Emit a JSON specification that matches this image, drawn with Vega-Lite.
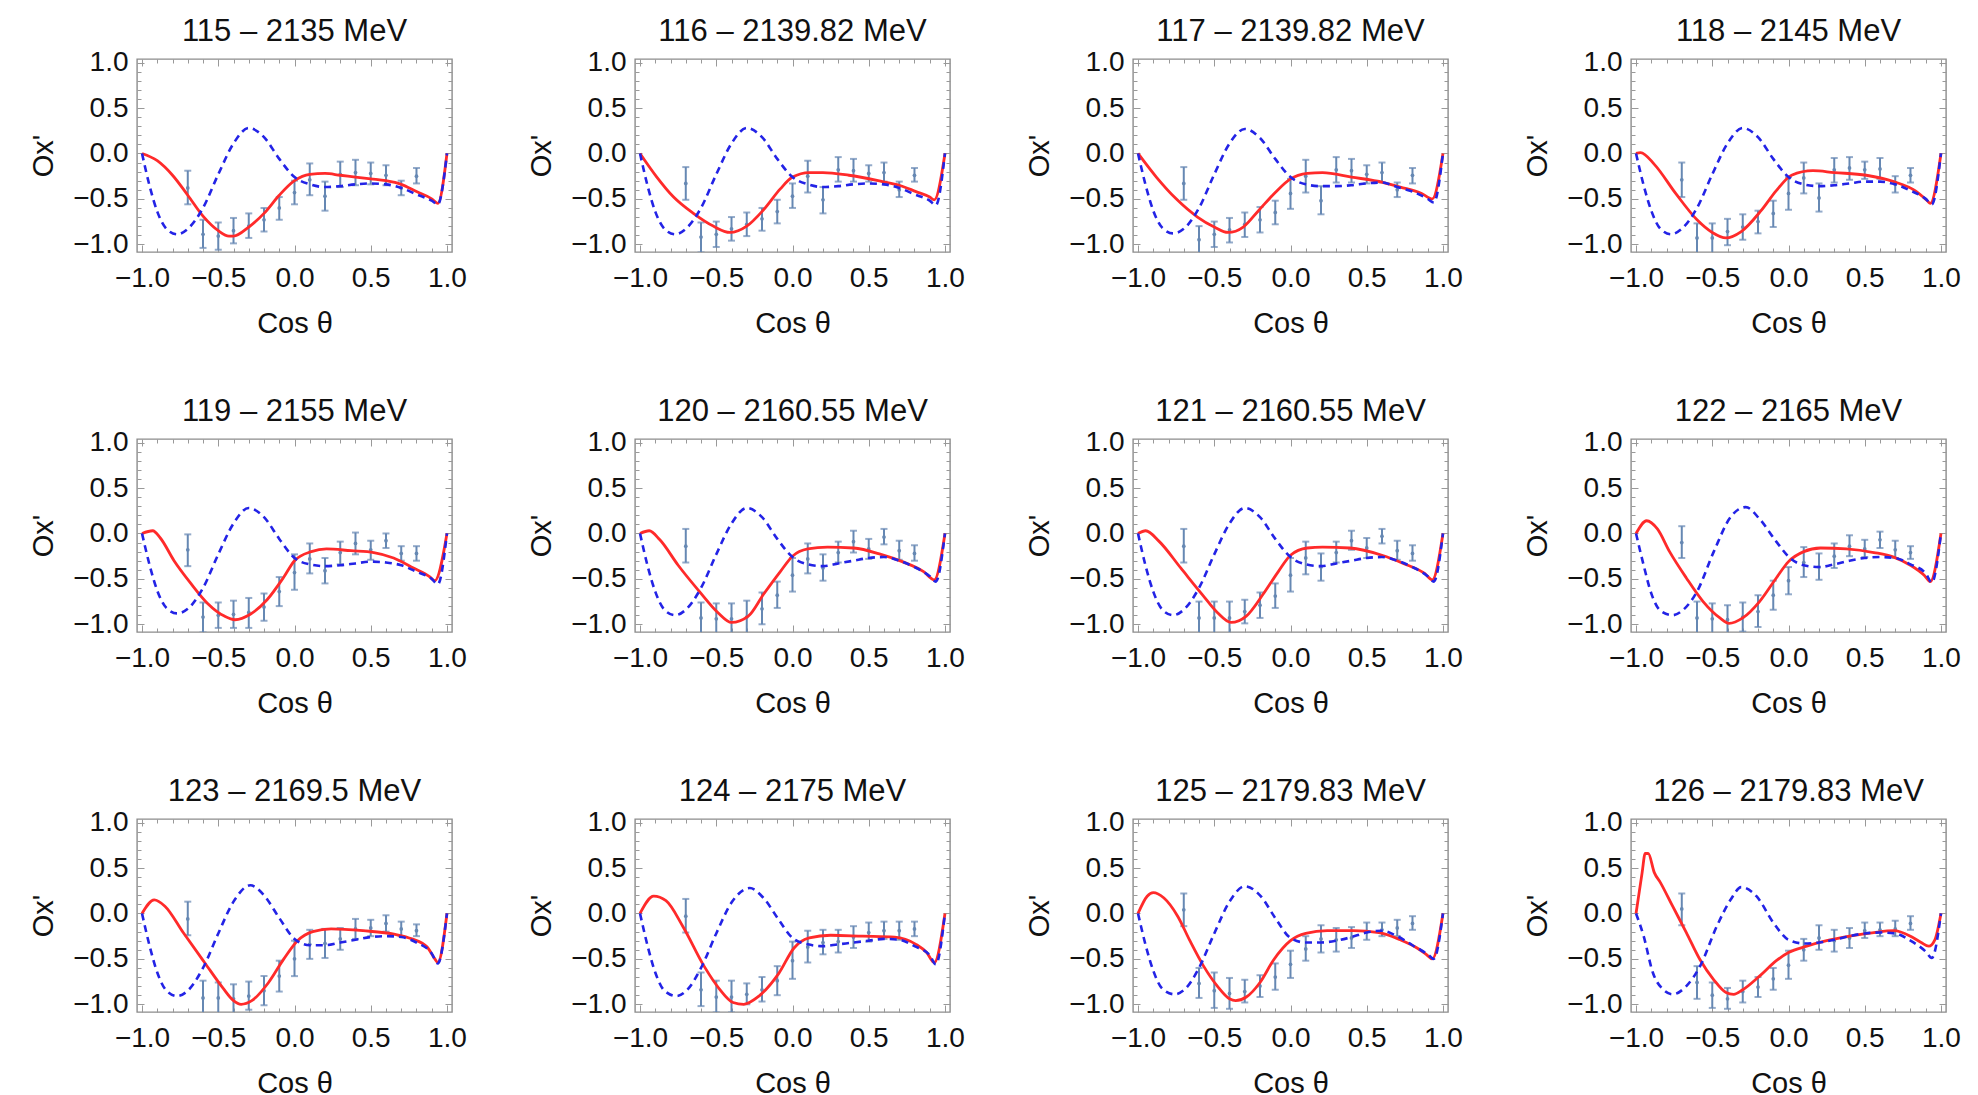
{
"$schema": "https://vega.github.io/schema/vega-lite/v6.json",
"background": "white",
"padding": {"left": 29, "top": 14, "right": 5, "bottom": 0},
"data": {"values": [
{"p":"115 – 2135 MeV","s":"d","x":-0.7,"lo":-0.56,"hi":-0.19,"y":-0.38},
{"p":"115 – 2135 MeV","s":"d","x":-0.6,"lo":-1.04,"hi":-0.73,"y":-0.89},
{"p":"115 – 2135 MeV","s":"d","x":-0.5,"lo":-1.06,"hi":-0.76,"y":-0.91},
{"p":"115 – 2135 MeV","s":"d","x":-0.4,"lo":-0.99,"hi":-0.71,"y":-0.85},
{"p":"115 – 2135 MeV","s":"d","x":-0.3,"lo":-0.93,"hi":-0.66,"y":-0.8},
{"p":"115 – 2135 MeV","s":"d","x":-0.2,"lo":-0.86,"hi":-0.6,"y":-0.73},
{"p":"115 – 2135 MeV","s":"d","x":-0.1,"lo":-0.73,"hi":-0.48,"y":-0.6},
{"p":"115 – 2135 MeV","s":"d","x":0,"lo":-0.56,"hi":-0.3,"y":-0.43},
{"p":"115 – 2135 MeV","s":"d","x":0.1,"lo":-0.46,"hi":-0.11,"y":-0.29},
{"p":"115 – 2135 MeV","s":"d","x":0.2,"lo":-0.63,"hi":-0.31,"y":-0.47},
{"p":"115 – 2135 MeV","s":"d","x":0.3,"lo":-0.37,"hi":-0.09,"y":-0.23},
{"p":"115 – 2135 MeV","s":"d","x":0.4,"lo":-0.35,"hi":-0.07,"y":-0.21},
{"p":"115 – 2135 MeV","s":"d","x":0.5,"lo":-0.34,"hi":-0.1,"y":-0.22},
{"p":"115 – 2135 MeV","s":"d","x":0.6,"lo":-0.35,"hi":-0.13,"y":-0.24},
{"p":"115 – 2135 MeV","s":"d","x":0.7,"lo":-0.46,"hi":-0.3,"y":-0.38},
{"p":"115 – 2135 MeV","s":"d","x":0.8,"lo":-0.33,"hi":-0.16,"y":-0.25},
{"p":"116 – 2139.82 MeV","s":"d","x":-0.7,"lo":-0.51,"hi":-0.15,"y":-0.33},
{"p":"116 – 2139.82 MeV","s":"d","x":-0.6,"lo":-1.09,"hi":-0.76,"y":-0.92},
{"p":"116 – 2139.82 MeV","s":"d","x":-0.5,"lo":-1.03,"hi":-0.75,"y":-0.89},
{"p":"116 – 2139.82 MeV","s":"d","x":-0.4,"lo":-0.96,"hi":-0.7,"y":-0.83},
{"p":"116 – 2139.82 MeV","s":"d","x":-0.3,"lo":-0.91,"hi":-0.65,"y":-0.78},
{"p":"116 – 2139.82 MeV","s":"d","x":-0.2,"lo":-0.85,"hi":-0.6,"y":-0.72},
{"p":"116 – 2139.82 MeV","s":"d","x":-0.1,"lo":-0.77,"hi":-0.51,"y":-0.64},
{"p":"116 – 2139.82 MeV","s":"d","x":0,"lo":-0.6,"hi":-0.33,"y":-0.47},
{"p":"116 – 2139.82 MeV","s":"d","x":0.1,"lo":-0.43,"hi":-0.08,"y":-0.25},
{"p":"116 – 2139.82 MeV","s":"d","x":0.2,"lo":-0.66,"hi":-0.37,"y":-0.51},
{"p":"116 – 2139.82 MeV","s":"d","x":0.3,"lo":-0.31,"hi":-0.04,"y":-0.18},
{"p":"116 – 2139.82 MeV","s":"d","x":0.4,"lo":-0.31,"hi":-0.06,"y":-0.19},
{"p":"116 – 2139.82 MeV","s":"d","x":0.5,"lo":-0.31,"hi":-0.13,"y":-0.22},
{"p":"116 – 2139.82 MeV","s":"d","x":0.6,"lo":-0.31,"hi":-0.1,"y":-0.21},
{"p":"116 – 2139.82 MeV","s":"d","x":0.7,"lo":-0.48,"hi":-0.31,"y":-0.4},
{"p":"116 – 2139.82 MeV","s":"d","x":0.8,"lo":-0.31,"hi":-0.16,"y":-0.24},
{"p":"117 – 2139.82 MeV","s":"d","x":-0.7,"lo":-0.51,"hi":-0.15,"y":-0.33},
{"p":"117 – 2139.82 MeV","s":"d","x":-0.6,"lo":-1.1,"hi":-0.8,"y":-0.95},
{"p":"117 – 2139.82 MeV","s":"d","x":-0.5,"lo":-1.03,"hi":-0.75,"y":-0.89},
{"p":"117 – 2139.82 MeV","s":"d","x":-0.4,"lo":-0.98,"hi":-0.71,"y":-0.84},
{"p":"117 – 2139.82 MeV","s":"d","x":-0.3,"lo":-0.92,"hi":-0.65,"y":-0.78},
{"p":"117 – 2139.82 MeV","s":"d","x":-0.2,"lo":-0.87,"hi":-0.59,"y":-0.73},
{"p":"117 – 2139.82 MeV","s":"d","x":-0.1,"lo":-0.78,"hi":-0.52,"y":-0.65},
{"p":"117 – 2139.82 MeV","s":"d","x":0,"lo":-0.61,"hi":-0.28,"y":-0.44},
{"p":"117 – 2139.82 MeV","s":"d","x":0.1,"lo":-0.43,"hi":-0.07,"y":-0.25},
{"p":"117 – 2139.82 MeV","s":"d","x":0.2,"lo":-0.67,"hi":-0.36,"y":-0.52},
{"p":"117 – 2139.82 MeV","s":"d","x":0.3,"lo":-0.32,"hi":-0.04,"y":-0.18},
{"p":"117 – 2139.82 MeV","s":"d","x":0.4,"lo":-0.32,"hi":-0.06,"y":-0.19},
{"p":"117 – 2139.82 MeV","s":"d","x":0.5,"lo":-0.33,"hi":-0.13,"y":-0.23},
{"p":"117 – 2139.82 MeV","s":"d","x":0.6,"lo":-0.32,"hi":-0.1,"y":-0.21},
{"p":"117 – 2139.82 MeV","s":"d","x":0.7,"lo":-0.48,"hi":-0.32,"y":-0.4},
{"p":"117 – 2139.82 MeV","s":"d","x":0.8,"lo":-0.33,"hi":-0.16,"y":-0.24},
{"p":"118 – 2145 MeV","s":"d","x":-0.7,"lo":-0.48,"hi":-0.1,"y":-0.29},
{"p":"118 – 2145 MeV","s":"d","x":-0.6,"lo":-1.1,"hi":-0.77,"y":-0.93},
{"p":"118 – 2145 MeV","s":"d","x":-0.5,"lo":-1.1,"hi":-0.77,"y":-0.93},
{"p":"118 – 2145 MeV","s":"d","x":-0.4,"lo":-1.01,"hi":-0.72,"y":-0.86},
{"p":"118 – 2145 MeV","s":"d","x":-0.3,"lo":-0.95,"hi":-0.67,"y":-0.81},
{"p":"118 – 2145 MeV","s":"d","x":-0.2,"lo":-0.88,"hi":-0.63,"y":-0.75},
{"p":"118 – 2145 MeV","s":"d","x":-0.1,"lo":-0.81,"hi":-0.52,"y":-0.66},
{"p":"118 – 2145 MeV","s":"d","x":0,"lo":-0.62,"hi":-0.26,"y":-0.44},
{"p":"118 – 2145 MeV","s":"d","x":0.1,"lo":-0.44,"hi":-0.1,"y":-0.27},
{"p":"118 – 2145 MeV","s":"d","x":0.2,"lo":-0.64,"hi":-0.33,"y":-0.49},
{"p":"118 – 2145 MeV","s":"d","x":0.3,"lo":-0.32,"hi":-0.05,"y":-0.18},
{"p":"118 – 2145 MeV","s":"d","x":0.4,"lo":-0.29,"hi":-0.04,"y":-0.16},
{"p":"118 – 2145 MeV","s":"d","x":0.5,"lo":-0.28,"hi":-0.09,"y":-0.18},
{"p":"118 – 2145 MeV","s":"d","x":0.6,"lo":-0.28,"hi":-0.05,"y":-0.17},
{"p":"118 – 2145 MeV","s":"d","x":0.7,"lo":-0.43,"hi":-0.25,"y":-0.34},
{"p":"118 – 2145 MeV","s":"d","x":0.8,"lo":-0.32,"hi":-0.16,"y":-0.24},
{"p":"119 – 2155 MeV","s":"d","x":-0.7,"lo":-0.36,"hi":-0.01,"y":-0.18},
{"p":"119 – 2155 MeV","s":"d","x":-0.6,"lo":-1.09,"hi":-0.76,"y":-0.92},
{"p":"119 – 2155 MeV","s":"d","x":-0.5,"lo":-1.04,"hi":-0.76,"y":-0.9},
{"p":"119 – 2155 MeV","s":"d","x":-0.4,"lo":-1.04,"hi":-0.74,"y":-0.89},
{"p":"119 – 2155 MeV","s":"d","x":-0.3,"lo":-1.04,"hi":-0.71,"y":-0.87},
{"p":"119 – 2155 MeV","s":"d","x":-0.2,"lo":-0.96,"hi":-0.66,"y":-0.81},
{"p":"119 – 2155 MeV","s":"d","x":-0.1,"lo":-0.8,"hi":-0.48,"y":-0.64},
{"p":"119 – 2155 MeV","s":"d","x":0,"lo":-0.62,"hi":-0.23,"y":-0.43},
{"p":"119 – 2155 MeV","s":"d","x":0.1,"lo":-0.44,"hi":-0.11,"y":-0.28},
{"p":"119 – 2155 MeV","s":"d","x":0.2,"lo":-0.55,"hi":-0.27,"y":-0.41},
{"p":"119 – 2155 MeV","s":"d","x":0.3,"lo":-0.34,"hi":-0.09,"y":-0.21},
{"p":"119 – 2155 MeV","s":"d","x":0.4,"lo":-0.23,"hi":0.01,"y":-0.11},
{"p":"119 – 2155 MeV","s":"d","x":0.5,"lo":-0.29,"hi":-0.08,"y":-0.18},
{"p":"119 – 2155 MeV","s":"d","x":0.6,"lo":-0.16,"hi":0,"y":-0.08},
{"p":"119 – 2155 MeV","s":"d","x":0.7,"lo":-0.3,"hi":-0.14,"y":-0.22},
{"p":"119 – 2155 MeV","s":"d","x":0.8,"lo":-0.3,"hi":-0.14,"y":-0.22},
{"p":"120 – 2160.55 MeV","s":"d","x":-0.7,"lo":-0.32,"hi":0.05,"y":-0.14},
{"p":"120 – 2160.55 MeV","s":"d","x":-0.6,"lo":-1.11,"hi":-0.76,"y":-0.93},
{"p":"120 – 2160.55 MeV","s":"d","x":-0.5,"lo":-1.11,"hi":-0.77,"y":-0.94},
{"p":"120 – 2160.55 MeV","s":"d","x":-0.4,"lo":-1.11,"hi":-0.77,"y":-0.94},
{"p":"120 – 2160.55 MeV","s":"d","x":-0.3,"lo":-1.1,"hi":-0.74,"y":-0.92},
{"p":"120 – 2160.55 MeV","s":"d","x":-0.2,"lo":-1,"hi":-0.65,"y":-0.83},
{"p":"120 – 2160.55 MeV","s":"d","x":-0.1,"lo":-0.82,"hi":-0.53,"y":-0.68},
{"p":"120 – 2160.55 MeV","s":"d","x":0,"lo":-0.64,"hi":-0.27,"y":-0.46},
{"p":"120 – 2160.55 MeV","s":"d","x":0.1,"lo":-0.44,"hi":-0.11,"y":-0.28},
{"p":"120 – 2160.55 MeV","s":"d","x":0.2,"lo":-0.52,"hi":-0.23,"y":-0.38},
{"p":"120 – 2160.55 MeV","s":"d","x":0.3,"lo":-0.32,"hi":-0.09,"y":-0.21},
{"p":"120 – 2160.55 MeV","s":"d","x":0.4,"lo":-0.21,"hi":0.03,"y":-0.09},
{"p":"120 – 2160.55 MeV","s":"d","x":0.5,"lo":-0.28,"hi":-0.06,"y":-0.17},
{"p":"120 – 2160.55 MeV","s":"d","x":0.6,"lo":-0.12,"hi":0.05,"y":-0.04},
{"p":"120 – 2160.55 MeV","s":"d","x":0.7,"lo":-0.29,"hi":-0.08,"y":-0.19},
{"p":"120 – 2160.55 MeV","s":"d","x":0.8,"lo":-0.3,"hi":-0.13,"y":-0.22},
{"p":"121 – 2160.55 MeV","s":"d","x":-0.7,"lo":-0.32,"hi":0.05,"y":-0.14},
{"p":"121 – 2160.55 MeV","s":"d","x":-0.6,"lo":-1.11,"hi":-0.75,"y":-0.93},
{"p":"121 – 2160.55 MeV","s":"d","x":-0.5,"lo":-1.11,"hi":-0.75,"y":-0.93},
{"p":"121 – 2160.55 MeV","s":"d","x":-0.4,"lo":-1.11,"hi":-0.75,"y":-0.93},
{"p":"121 – 2160.55 MeV","s":"d","x":-0.3,"lo":-0.99,"hi":-0.73,"y":-0.86},
{"p":"121 – 2160.55 MeV","s":"d","x":-0.2,"lo":-0.93,"hi":-0.65,"y":-0.79},
{"p":"121 – 2160.55 MeV","s":"d","x":-0.1,"lo":-0.82,"hi":-0.55,"y":-0.69},
{"p":"121 – 2160.55 MeV","s":"d","x":0,"lo":-0.64,"hi":-0.27,"y":-0.46},
{"p":"121 – 2160.55 MeV","s":"d","x":0.1,"lo":-0.45,"hi":-0.09,"y":-0.27},
{"p":"121 – 2160.55 MeV","s":"d","x":0.2,"lo":-0.52,"hi":-0.22,"y":-0.37},
{"p":"121 – 2160.55 MeV","s":"d","x":0.3,"lo":-0.32,"hi":-0.09,"y":-0.21},
{"p":"121 – 2160.55 MeV","s":"d","x":0.4,"lo":-0.18,"hi":0.03,"y":-0.08},
{"p":"121 – 2160.55 MeV","s":"d","x":0.5,"lo":-0.27,"hi":-0.05,"y":-0.16},
{"p":"121 – 2160.55 MeV","s":"d","x":0.6,"lo":-0.11,"hi":0.05,"y":-0.03},
{"p":"121 – 2160.55 MeV","s":"d","x":0.7,"lo":-0.29,"hi":-0.08,"y":-0.19},
{"p":"121 – 2160.55 MeV","s":"d","x":0.8,"lo":-0.3,"hi":-0.13,"y":-0.22},
{"p":"122 – 2165 MeV","s":"d","x":-0.7,"lo":-0.27,"hi":0.08,"y":-0.1},
{"p":"122 – 2165 MeV","s":"d","x":-0.6,"lo":-1.1,"hi":-0.75,"y":-0.93},
{"p":"122 – 2165 MeV","s":"d","x":-0.5,"lo":-1.1,"hi":-0.77,"y":-0.94},
{"p":"122 – 2165 MeV","s":"d","x":-0.4,"lo":-1.1,"hi":-0.79,"y":-0.95},
{"p":"122 – 2165 MeV","s":"d","x":-0.3,"lo":-1.08,"hi":-0.76,"y":-0.92},
{"p":"122 – 2165 MeV","s":"d","x":-0.2,"lo":-1.03,"hi":-0.68,"y":-0.86},
{"p":"122 – 2165 MeV","s":"d","x":-0.1,"lo":-0.84,"hi":-0.52,"y":-0.68},
{"p":"122 – 2165 MeV","s":"d","x":0,"lo":-0.67,"hi":-0.37,"y":-0.52},
{"p":"122 – 2165 MeV","s":"d","x":0.1,"lo":-0.48,"hi":-0.15,"y":-0.32},
{"p":"122 – 2165 MeV","s":"d","x":0.2,"lo":-0.51,"hi":-0.22,"y":-0.37},
{"p":"122 – 2165 MeV","s":"d","x":0.3,"lo":-0.38,"hi":-0.11,"y":-0.25},
{"p":"122 – 2165 MeV","s":"d","x":0.4,"lo":-0.25,"hi":-0.02,"y":-0.14},
{"p":"122 – 2165 MeV","s":"d","x":0.5,"lo":-0.26,"hi":-0.07,"y":-0.17},
{"p":"122 – 2165 MeV","s":"d","x":0.6,"lo":-0.16,"hi":0.02,"y":-0.07},
{"p":"122 – 2165 MeV","s":"d","x":0.7,"lo":-0.27,"hi":-0.08,"y":-0.18},
{"p":"122 – 2165 MeV","s":"d","x":0.8,"lo":-0.28,"hi":-0.14,"y":-0.21},
{"p":"123 – 2169.5 MeV","s":"d","x":-0.7,"lo":-0.24,"hi":0.13,"y":-0.06},
{"p":"123 – 2169.5 MeV","s":"d","x":-0.6,"lo":-1.11,"hi":-0.74,"y":-0.93},
{"p":"123 – 2169.5 MeV","s":"d","x":-0.5,"lo":-1.1,"hi":-0.76,"y":-0.93},
{"p":"123 – 2169.5 MeV","s":"d","x":-0.4,"lo":-1.1,"hi":-0.78,"y":-0.94},
{"p":"123 – 2169.5 MeV","s":"d","x":-0.3,"lo":-1.06,"hi":-0.75,"y":-0.91},
{"p":"123 – 2169.5 MeV","s":"d","x":-0.2,"lo":-1.01,"hi":-0.69,"y":-0.85},
{"p":"123 – 2169.5 MeV","s":"d","x":-0.1,"lo":-0.86,"hi":-0.52,"y":-0.69},
{"p":"123 – 2169.5 MeV","s":"d","x":0,"lo":-0.69,"hi":-0.3,"y":-0.5},
{"p":"123 – 2169.5 MeV","s":"d","x":0.1,"lo":-0.5,"hi":-0.18,"y":-0.34},
{"p":"123 – 2169.5 MeV","s":"d","x":0.2,"lo":-0.49,"hi":-0.17,"y":-0.33},
{"p":"123 – 2169.5 MeV","s":"d","x":0.3,"lo":-0.4,"hi":-0.16,"y":-0.28},
{"p":"123 – 2169.5 MeV","s":"d","x":0.4,"lo":-0.28,"hi":-0.06,"y":-0.17},
{"p":"123 – 2169.5 MeV","s":"d","x":0.5,"lo":-0.25,"hi":-0.07,"y":-0.16},
{"p":"123 – 2169.5 MeV","s":"d","x":0.6,"lo":-0.2,"hi":-0.02,"y":-0.11},
{"p":"123 – 2169.5 MeV","s":"d","x":0.7,"lo":-0.25,"hi":-0.09,"y":-0.17},
{"p":"123 – 2169.5 MeV","s":"d","x":0.8,"lo":-0.25,"hi":-0.12,"y":-0.19},
{"p":"124 – 2175 MeV","s":"d","x":-0.7,"lo":-0.21,"hi":0.16,"y":-0.03},
{"p":"124 – 2175 MeV","s":"d","x":-0.6,"lo":-1.02,"hi":-0.65,"y":-0.84},
{"p":"124 – 2175 MeV","s":"d","x":-0.5,"lo":-1.09,"hi":-0.74,"y":-0.92},
{"p":"124 – 2175 MeV","s":"d","x":-0.4,"lo":-1.09,"hi":-0.74,"y":-0.92},
{"p":"124 – 2175 MeV","s":"d","x":-0.3,"lo":-1,"hi":-0.77,"y":-0.89},
{"p":"124 – 2175 MeV","s":"d","x":-0.2,"lo":-0.97,"hi":-0.7,"y":-0.84},
{"p":"124 – 2175 MeV","s":"d","x":-0.1,"lo":-0.9,"hi":-0.58,"y":-0.74},
{"p":"124 – 2175 MeV","s":"d","x":0,"lo":-0.72,"hi":-0.31,"y":-0.52},
{"p":"124 – 2175 MeV","s":"d","x":0.1,"lo":-0.54,"hi":-0.19,"y":-0.37},
{"p":"124 – 2175 MeV","s":"d","x":0.2,"lo":-0.45,"hi":-0.18,"y":-0.32},
{"p":"124 – 2175 MeV","s":"d","x":0.3,"lo":-0.43,"hi":-0.18,"y":-0.31},
{"p":"124 – 2175 MeV","s":"d","x":0.4,"lo":-0.38,"hi":-0.14,"y":-0.26},
{"p":"124 – 2175 MeV","s":"d","x":0.5,"lo":-0.31,"hi":-0.1,"y":-0.21},
{"p":"124 – 2175 MeV","s":"d","x":0.6,"lo":-0.28,"hi":-0.09,"y":-0.19},
{"p":"124 – 2175 MeV","s":"d","x":0.7,"lo":-0.29,"hi":-0.09,"y":-0.19},
{"p":"124 – 2175 MeV","s":"d","x":0.8,"lo":-0.25,"hi":-0.09,"y":-0.17},
{"p":"125 – 2179.83 MeV","s":"d","x":-0.7,"lo":-0.14,"hi":0.22,"y":0.04},
{"p":"125 – 2179.83 MeV","s":"d","x":-0.6,"lo":-0.93,"hi":-0.6,"y":-0.77},
{"p":"125 – 2179.83 MeV","s":"d","x":-0.5,"lo":-1.04,"hi":-0.65,"y":-0.85},
{"p":"125 – 2179.83 MeV","s":"d","x":-0.4,"lo":-1.05,"hi":-0.71,"y":-0.88},
{"p":"125 – 2179.83 MeV","s":"d","x":-0.3,"lo":-0.98,"hi":-0.73,"y":-0.86},
{"p":"125 – 2179.83 MeV","s":"d","x":-0.2,"lo":-0.92,"hi":-0.68,"y":-0.8},
{"p":"125 – 2179.83 MeV","s":"d","x":-0.1,"lo":-0.84,"hi":-0.55,"y":-0.7},
{"p":"125 – 2179.83 MeV","s":"d","x":0,"lo":-0.71,"hi":-0.41,"y":-0.56},
{"p":"125 – 2179.83 MeV","s":"d","x":0.1,"lo":-0.52,"hi":-0.25,"y":-0.39},
{"p":"125 – 2179.83 MeV","s":"d","x":0.2,"lo":-0.43,"hi":-0.13,"y":-0.28},
{"p":"125 – 2179.83 MeV","s":"d","x":0.3,"lo":-0.42,"hi":-0.16,"y":-0.29},
{"p":"125 – 2179.83 MeV","s":"d","x":0.4,"lo":-0.38,"hi":-0.15,"y":-0.27},
{"p":"125 – 2179.83 MeV","s":"d","x":0.5,"lo":-0.29,"hi":-0.1,"y":-0.2},
{"p":"125 – 2179.83 MeV","s":"d","x":0.6,"lo":-0.25,"hi":-0.1,"y":-0.18},
{"p":"125 – 2179.83 MeV","s":"d","x":0.7,"lo":-0.25,"hi":-0.07,"y":-0.16},
{"p":"125 – 2179.83 MeV","s":"d","x":0.8,"lo":-0.18,"hi":-0.03,"y":-0.11},
{"p":"126 – 2179.83 MeV","s":"d","x":-0.7,"lo":-0.13,"hi":0.22,"y":0.05},
{"p":"126 – 2179.83 MeV","s":"d","x":-0.6,"lo":-0.94,"hi":-0.58,"y":-0.76},
{"p":"126 – 2179.83 MeV","s":"d","x":-0.5,"lo":-1.04,"hi":-0.76,"y":-0.9},
{"p":"126 – 2179.83 MeV","s":"d","x":-0.4,"lo":-1.05,"hi":-0.82,"y":-0.94},
{"p":"126 – 2179.83 MeV","s":"d","x":-0.3,"lo":-0.98,"hi":-0.74,"y":-0.86},
{"p":"126 – 2179.83 MeV","s":"d","x":-0.2,"lo":-0.92,"hi":-0.7,"y":-0.81},
{"p":"126 – 2179.83 MeV","s":"d","x":-0.1,"lo":-0.84,"hi":-0.6,"y":-0.72},
{"p":"126 – 2179.83 MeV","s":"d","x":0,"lo":-0.72,"hi":-0.41,"y":-0.57},
{"p":"126 – 2179.83 MeV","s":"d","x":0.1,"lo":-0.52,"hi":-0.28,"y":-0.4},
{"p":"126 – 2179.83 MeV","s":"d","x":0.2,"lo":-0.4,"hi":-0.13,"y":-0.27},
{"p":"126 – 2179.83 MeV","s":"d","x":0.3,"lo":-0.42,"hi":-0.18,"y":-0.3},
{"p":"126 – 2179.83 MeV","s":"d","x":0.4,"lo":-0.38,"hi":-0.16,"y":-0.27},
{"p":"126 – 2179.83 MeV","s":"d","x":0.5,"lo":-0.27,"hi":-0.1,"y":-0.19},
{"p":"126 – 2179.83 MeV","s":"d","x":0.6,"lo":-0.25,"hi":-0.1,"y":-0.18},
{"p":"126 – 2179.83 MeV","s":"d","x":0.7,"lo":-0.25,"hi":-0.08,"y":-0.17},
{"p":"126 – 2179.83 MeV","s":"d","x":0.8,"lo":-0.18,"hi":-0.03,"y":-0.11},

{"p":"115 – 2135 MeV","s":"f","x":-1,"y":0},{"p":"115 – 2135 MeV","s":"f","x":-0.9,"y":-0.08},{"p":"115 – 2135 MeV","s":"f","x":-0.8,"y":-0.24},{"p":"115 – 2135 MeV","s":"f","x":-0.7,"y":-0.46},{"p":"115 – 2135 MeV","s":"f","x":-0.6,"y":-0.69},{"p":"115 – 2135 MeV","s":"f","x":-0.5,"y":-0.85},{"p":"115 – 2135 MeV","s":"f","x":-0.43,"y":-0.91},{"p":"115 – 2135 MeV","s":"f","x":-0.4,"y":-0.91},{"p":"115 – 2135 MeV","s":"f","x":-0.3,"y":-0.81},{"p":"115 – 2135 MeV","s":"f","x":-0.2,"y":-0.66},{"p":"115 – 2135 MeV","s":"f","x":-0.1,"y":-0.46},{"p":"115 – 2135 MeV","s":"f","x":0,"y":-0.3},{"p":"115 – 2135 MeV","s":"f","x":0.1,"y":-0.23},{"p":"115 – 2135 MeV","s":"f","x":0.2,"y":-0.22},{"p":"115 – 2135 MeV","s":"f","x":0.3,"y":-0.24},{"p":"115 – 2135 MeV","s":"f","x":0.4,"y":-0.26},{"p":"115 – 2135 MeV","s":"f","x":0.5,"y":-0.28},{"p":"115 – 2135 MeV","s":"f","x":0.6,"y":-0.3},{"p":"115 – 2135 MeV","s":"f","x":0.7,"y":-0.34},{"p":"115 – 2135 MeV","s":"f","x":0.8,"y":-0.42},{"p":"115 – 2135 MeV","s":"f","x":0.9,"y":-0.5},{"p":"115 – 2135 MeV","s":"f","x":0.94,"y":-0.55},{"p":"115 – 2135 MeV","s":"f","x":1,"y":0},
{"p":"116 – 2139.82 MeV","s":"f","x":-1,"y":0},{"p":"116 – 2139.82 MeV","s":"f","x":-0.89,"y":-0.26},{"p":"116 – 2139.82 MeV","s":"f","x":-0.78,"y":-0.48},{"p":"116 – 2139.82 MeV","s":"f","x":-0.65,"y":-0.66},{"p":"116 – 2139.82 MeV","s":"f","x":-0.52,"y":-0.8},{"p":"116 – 2139.82 MeV","s":"f","x":-0.41,"y":-0.87},{"p":"116 – 2139.82 MeV","s":"f","x":-0.3,"y":-0.8},{"p":"116 – 2139.82 MeV","s":"f","x":-0.19,"y":-0.62},{"p":"116 – 2139.82 MeV","s":"f","x":-0.08,"y":-0.39},{"p":"116 – 2139.82 MeV","s":"f","x":0,"y":-0.26},{"p":"116 – 2139.82 MeV","s":"f","x":0.11,"y":-0.21},{"p":"116 – 2139.82 MeV","s":"f","x":0.2,"y":-0.21},{"p":"116 – 2139.82 MeV","s":"f","x":0.37,"y":-0.24},{"p":"116 – 2139.82 MeV","s":"f","x":0.59,"y":-0.31},{"p":"116 – 2139.82 MeV","s":"f","x":0.7,"y":-0.35},{"p":"116 – 2139.82 MeV","s":"f","x":0.81,"y":-0.42},{"p":"116 – 2139.82 MeV","s":"f","x":0.9,"y":-0.48},{"p":"116 – 2139.82 MeV","s":"f","x":0.93,"y":-0.51},{"p":"116 – 2139.82 MeV","s":"f","x":1,"y":0},
{"p":"117 – 2139.82 MeV","s":"f","x":-1,"y":0},{"p":"117 – 2139.82 MeV","s":"f","x":-0.88,"y":-0.26},{"p":"117 – 2139.82 MeV","s":"f","x":-0.75,"y":-0.5},{"p":"117 – 2139.82 MeV","s":"f","x":-0.61,"y":-0.7},{"p":"117 – 2139.82 MeV","s":"f","x":-0.5,"y":-0.81},{"p":"117 – 2139.82 MeV","s":"f","x":-0.41,"y":-0.87},{"p":"117 – 2139.82 MeV","s":"f","x":-0.31,"y":-0.81},{"p":"117 – 2139.82 MeV","s":"f","x":-0.21,"y":-0.63},{"p":"117 – 2139.82 MeV","s":"f","x":-0.1,"y":-0.43},{"p":"117 – 2139.82 MeV","s":"f","x":0,"y":-0.28},{"p":"117 – 2139.82 MeV","s":"f","x":0.11,"y":-0.22},{"p":"117 – 2139.82 MeV","s":"f","x":0.21,"y":-0.21},{"p":"117 – 2139.82 MeV","s":"f","x":0.4,"y":-0.26},{"p":"117 – 2139.82 MeV","s":"f","x":0.61,"y":-0.32},{"p":"117 – 2139.82 MeV","s":"f","x":0.72,"y":-0.37},{"p":"117 – 2139.82 MeV","s":"f","x":0.86,"y":-0.44},{"p":"117 – 2139.82 MeV","s":"f","x":0.93,"y":-0.5},{"p":"117 – 2139.82 MeV","s":"f","x":1,"y":0},
{"p":"118 – 2145 MeV","s":"f","x":-1,"y":0},{"p":"118 – 2145 MeV","s":"f","x":-0.97,"y":0.01},{"p":"118 – 2145 MeV","s":"f","x":-0.88,"y":-0.12},{"p":"118 – 2145 MeV","s":"f","x":-0.74,"y":-0.44},{"p":"118 – 2145 MeV","s":"f","x":-0.6,"y":-0.73},{"p":"118 – 2145 MeV","s":"f","x":-0.5,"y":-0.87},{"p":"118 – 2145 MeV","s":"f","x":-0.41,"y":-0.93},{"p":"118 – 2145 MeV","s":"f","x":-0.31,"y":-0.86},{"p":"118 – 2145 MeV","s":"f","x":-0.18,"y":-0.63},{"p":"118 – 2145 MeV","s":"f","x":-0.08,"y":-0.41},{"p":"118 – 2145 MeV","s":"f","x":0.02,"y":-0.24},{"p":"118 – 2145 MeV","s":"f","x":0.16,"y":-0.19},{"p":"118 – 2145 MeV","s":"f","x":0.3,"y":-0.21},{"p":"118 – 2145 MeV","s":"f","x":0.51,"y":-0.24},{"p":"118 – 2145 MeV","s":"f","x":0.69,"y":-0.31},{"p":"118 – 2145 MeV","s":"f","x":0.83,"y":-0.41},{"p":"118 – 2145 MeV","s":"f","x":0.91,"y":-0.52},{"p":"118 – 2145 MeV","s":"f","x":0.93,"y":-0.55},{"p":"118 – 2145 MeV","s":"f","x":1,"y":0},
{"p":"119 – 2155 MeV","s":"f","x":-1,"y":0},{"p":"119 – 2155 MeV","s":"f","x":-0.93,"y":0.03},{"p":"119 – 2155 MeV","s":"f","x":-0.88,"y":-0.05},{"p":"119 – 2155 MeV","s":"f","x":-0.79,"y":-0.3},{"p":"119 – 2155 MeV","s":"f","x":-0.68,"y":-0.55},{"p":"119 – 2155 MeV","s":"f","x":-0.57,"y":-0.77},{"p":"119 – 2155 MeV","s":"f","x":-0.46,"y":-0.91},{"p":"119 – 2155 MeV","s":"f","x":-0.39,"y":-0.95},{"p":"119 – 2155 MeV","s":"f","x":-0.29,"y":-0.89},{"p":"119 – 2155 MeV","s":"f","x":-0.18,"y":-0.73},{"p":"119 – 2155 MeV","s":"f","x":-0.07,"y":-0.48},{"p":"119 – 2155 MeV","s":"f","x":0,"y":-0.3},{"p":"119 – 2155 MeV","s":"f","x":0.11,"y":-0.2},{"p":"119 – 2155 MeV","s":"f","x":0.21,"y":-0.17},{"p":"119 – 2155 MeV","s":"f","x":0.37,"y":-0.19},{"p":"119 – 2155 MeV","s":"f","x":0.52,"y":-0.21},{"p":"119 – 2155 MeV","s":"f","x":0.65,"y":-0.27},{"p":"119 – 2155 MeV","s":"f","x":0.78,"y":-0.38},{"p":"119 – 2155 MeV","s":"f","x":0.89,"y":-0.48},{"p":"119 – 2155 MeV","s":"f","x":0.92,"y":-0.52},{"p":"119 – 2155 MeV","s":"f","x":1,"y":0},
{"p":"120 – 2160.55 MeV","s":"f","x":-1,"y":0},{"p":"120 – 2160.55 MeV","s":"f","x":-0.94,"y":0.03},{"p":"120 – 2160.55 MeV","s":"f","x":-0.87,"y":-0.07},{"p":"120 – 2160.55 MeV","s":"f","x":-0.75,"y":-0.35},{"p":"120 – 2160.55 MeV","s":"f","x":-0.61,"y":-0.64},{"p":"120 – 2160.55 MeV","s":"f","x":-0.49,"y":-0.87},{"p":"120 – 2160.55 MeV","s":"f","x":-0.4,"y":-0.98},{"p":"120 – 2160.55 MeV","s":"f","x":-0.29,"y":-0.91},{"p":"120 – 2160.55 MeV","s":"f","x":-0.19,"y":-0.67},{"p":"120 – 2160.55 MeV","s":"f","x":-0.08,"y":-0.42},{"p":"120 – 2160.55 MeV","s":"f","x":0,"y":-0.25},{"p":"120 – 2160.55 MeV","s":"f","x":0.1,"y":-0.17},{"p":"120 – 2160.55 MeV","s":"f","x":0.23,"y":-0.15},{"p":"120 – 2160.55 MeV","s":"f","x":0.4,"y":-0.16},{"p":"120 – 2160.55 MeV","s":"f","x":0.58,"y":-0.23},{"p":"120 – 2160.55 MeV","s":"f","x":0.72,"y":-0.31},{"p":"120 – 2160.55 MeV","s":"f","x":0.86,"y":-0.42},{"p":"120 – 2160.55 MeV","s":"f","x":0.93,"y":-0.51},{"p":"120 – 2160.55 MeV","s":"f","x":1,"y":0},
{"p":"121 – 2160.55 MeV","s":"f","x":-1,"y":0},{"p":"121 – 2160.55 MeV","s":"f","x":-0.95,"y":0.03},{"p":"121 – 2160.55 MeV","s":"f","x":-0.86,"y":-0.09},{"p":"121 – 2160.55 MeV","s":"f","x":-0.72,"y":-0.38},{"p":"121 – 2160.55 MeV","s":"f","x":-0.58,"y":-0.67},{"p":"121 – 2160.55 MeV","s":"f","x":-0.48,"y":-0.87},{"p":"121 – 2160.55 MeV","s":"f","x":-0.39,"y":-0.98},{"p":"121 – 2160.55 MeV","s":"f","x":-0.29,"y":-0.91},{"p":"121 – 2160.55 MeV","s":"f","x":-0.18,"y":-0.67},{"p":"121 – 2160.55 MeV","s":"f","x":-0.08,"y":-0.42},{"p":"121 – 2160.55 MeV","s":"f","x":0,"y":-0.24},{"p":"121 – 2160.55 MeV","s":"f","x":0.11,"y":-0.16},{"p":"121 – 2160.55 MeV","s":"f","x":0.21,"y":-0.15},{"p":"121 – 2160.55 MeV","s":"f","x":0.39,"y":-0.16},{"p":"121 – 2160.55 MeV","s":"f","x":0.6,"y":-0.24},{"p":"121 – 2160.55 MeV","s":"f","x":0.74,"y":-0.33},{"p":"121 – 2160.55 MeV","s":"f","x":0.88,"y":-0.44},{"p":"121 – 2160.55 MeV","s":"f","x":0.93,"y":-0.51},{"p":"121 – 2160.55 MeV","s":"f","x":1,"y":0},
{"p":"122 – 2165 MeV","s":"f","x":-1,"y":0},{"p":"122 – 2165 MeV","s":"f","x":-0.93,"y":0.14},{"p":"122 – 2165 MeV","s":"f","x":-0.86,"y":0.05},{"p":"122 – 2165 MeV","s":"f","x":-0.78,"y":-0.2},{"p":"122 – 2165 MeV","s":"f","x":-0.67,"y":-0.49},{"p":"122 – 2165 MeV","s":"f","x":-0.56,"y":-0.75},{"p":"122 – 2165 MeV","s":"f","x":-0.45,"y":-0.93},{"p":"122 – 2165 MeV","s":"f","x":-0.39,"y":-0.99},{"p":"122 – 2165 MeV","s":"f","x":-0.3,"y":-0.93},{"p":"122 – 2165 MeV","s":"f","x":-0.19,"y":-0.75},{"p":"122 – 2165 MeV","s":"f","x":-0.08,"y":-0.49},{"p":"122 – 2165 MeV","s":"f","x":0,"y":-0.31},{"p":"122 – 2165 MeV","s":"f","x":0.1,"y":-0.2},{"p":"122 – 2165 MeV","s":"f","x":0.21,"y":-0.16},{"p":"122 – 2165 MeV","s":"f","x":0.38,"y":-0.17},{"p":"122 – 2165 MeV","s":"f","x":0.56,"y":-0.21},{"p":"122 – 2165 MeV","s":"f","x":0.69,"y":-0.26},{"p":"122 – 2165 MeV","s":"f","x":0.8,"y":-0.35},{"p":"122 – 2165 MeV","s":"f","x":0.89,"y":-0.46},{"p":"122 – 2165 MeV","s":"f","x":0.93,"y":-0.53},{"p":"122 – 2165 MeV","s":"f","x":1,"y":0},
{"p":"123 – 2169.5 MeV","s":"f","x":-1,"y":0},{"p":"123 – 2169.5 MeV","s":"f","x":-0.92,"y":0.15},{"p":"123 – 2169.5 MeV","s":"f","x":-0.85,"y":0.08},{"p":"123 – 2169.5 MeV","s":"f","x":-0.73,"y":-0.21},{"p":"123 – 2169.5 MeV","s":"f","x":-0.59,"y":-0.54},{"p":"123 – 2169.5 MeV","s":"f","x":-0.47,"y":-0.82},{"p":"123 – 2169.5 MeV","s":"f","x":-0.4,"y":-0.96},{"p":"123 – 2169.5 MeV","s":"f","x":-0.35,"y":-1},{"p":"123 – 2169.5 MeV","s":"f","x":-0.28,"y":-0.96},{"p":"123 – 2169.5 MeV","s":"f","x":-0.17,"y":-0.76},{"p":"123 – 2169.5 MeV","s":"f","x":-0.07,"y":-0.5},{"p":"123 – 2169.5 MeV","s":"f","x":0.02,"y":-0.3},{"p":"123 – 2169.5 MeV","s":"f","x":0.12,"y":-0.2},{"p":"123 – 2169.5 MeV","s":"f","x":0.24,"y":-0.17},{"p":"123 – 2169.5 MeV","s":"f","x":0.45,"y":-0.19},{"p":"123 – 2169.5 MeV","s":"f","x":0.66,"y":-0.23},{"p":"123 – 2169.5 MeV","s":"f","x":0.77,"y":-0.28},{"p":"123 – 2169.5 MeV","s":"f","x":0.87,"y":-0.37},{"p":"123 – 2169.5 MeV","s":"f","x":0.92,"y":-0.5},{"p":"123 – 2169.5 MeV","s":"f","x":0.94,"y":-0.54},{"p":"123 – 2169.5 MeV","s":"f","x":1,"y":0},
{"p":"124 – 2175 MeV","s":"f","x":-1,"y":0},{"p":"124 – 2175 MeV","s":"f","x":-0.91,"y":0.19},{"p":"124 – 2175 MeV","s":"f","x":-0.83,"y":0.14},{"p":"124 – 2175 MeV","s":"f","x":-0.72,"y":-0.14},{"p":"124 – 2175 MeV","s":"f","x":-0.58,"y":-0.58},{"p":"124 – 2175 MeV","s":"f","x":-0.48,"y":-0.83},{"p":"124 – 2175 MeV","s":"f","x":-0.39,"y":-0.98},{"p":"124 – 2175 MeV","s":"f","x":-0.32,"y":-1},{"p":"124 – 2175 MeV","s":"f","x":-0.22,"y":-0.91},{"p":"124 – 2175 MeV","s":"f","x":-0.09,"y":-0.66},{"p":"124 – 2175 MeV","s":"f","x":0.01,"y":-0.38},{"p":"124 – 2175 MeV","s":"f","x":0.11,"y":-0.27},{"p":"124 – 2175 MeV","s":"f","x":0.25,"y":-0.24},{"p":"124 – 2175 MeV","s":"f","x":0.46,"y":-0.25},{"p":"124 – 2175 MeV","s":"f","x":0.67,"y":-0.26},{"p":"124 – 2175 MeV","s":"f","x":0.81,"y":-0.34},{"p":"124 – 2175 MeV","s":"f","x":0.88,"y":-0.43},{"p":"124 – 2175 MeV","s":"f","x":0.93,"y":-0.54},{"p":"124 – 2175 MeV","s":"f","x":1,"y":0},
{"p":"125 – 2179.83 MeV","s":"f","x":-1,"y":0},{"p":"125 – 2179.83 MeV","s":"f","x":-0.94,"y":0.19},{"p":"125 – 2179.83 MeV","s":"f","x":-0.9,"y":0.23},{"p":"125 – 2179.83 MeV","s":"f","x":-0.83,"y":0.17},{"p":"125 – 2179.83 MeV","s":"f","x":-0.74,"y":-0.03},{"p":"125 – 2179.83 MeV","s":"f","x":-0.66,"y":-0.3},{"p":"125 – 2179.83 MeV","s":"f","x":-0.57,"y":-0.58},{"p":"125 – 2179.83 MeV","s":"f","x":-0.48,"y":-0.8},{"p":"125 – 2179.83 MeV","s":"f","x":-0.4,"y":-0.94},{"p":"125 – 2179.83 MeV","s":"f","x":-0.36,"y":-0.96},{"p":"125 – 2179.83 MeV","s":"f","x":-0.29,"y":-0.92},{"p":"125 – 2179.83 MeV","s":"f","x":-0.2,"y":-0.76},{"p":"125 – 2179.83 MeV","s":"f","x":-0.11,"y":-0.51},{"p":"125 – 2179.83 MeV","s":"f","x":0,"y":-0.3},{"p":"125 – 2179.83 MeV","s":"f","x":0.1,"y":-0.22},{"p":"125 – 2179.83 MeV","s":"f","x":0.24,"y":-0.19},{"p":"125 – 2179.83 MeV","s":"f","x":0.41,"y":-0.19},{"p":"125 – 2179.83 MeV","s":"f","x":0.58,"y":-0.21},{"p":"125 – 2179.83 MeV","s":"f","x":0.72,"y":-0.29},{"p":"125 – 2179.83 MeV","s":"f","x":0.83,"y":-0.38},{"p":"125 – 2179.83 MeV","s":"f","x":0.89,"y":-0.45},{"p":"125 – 2179.83 MeV","s":"f","x":0.93,"y":-0.5},{"p":"125 – 2179.83 MeV","s":"f","x":1,"y":0},
{"p":"126 – 2179.83 MeV","s":"f","x":-1,"y":0},{"p":"126 – 2179.83 MeV","s":"f","x":-0.96,"y":0.45},{"p":"126 – 2179.83 MeV","s":"f","x":-0.94,"y":0.66},{"p":"126 – 2179.83 MeV","s":"f","x":-0.92,"y":0.66},{"p":"126 – 2179.83 MeV","s":"f","x":-0.88,"y":0.45},{"p":"126 – 2179.83 MeV","s":"f","x":-0.84,"y":0.34},{"p":"126 – 2179.83 MeV","s":"f","x":-0.76,"y":0.08},{"p":"126 – 2179.83 MeV","s":"f","x":-0.67,"y":-0.21},{"p":"126 – 2179.83 MeV","s":"f","x":-0.58,"y":-0.51},{"p":"126 – 2179.83 MeV","s":"f","x":-0.49,"y":-0.73},{"p":"126 – 2179.83 MeV","s":"f","x":-0.41,"y":-0.87},{"p":"126 – 2179.83 MeV","s":"f","x":-0.36,"y":-0.89},{"p":"126 – 2179.83 MeV","s":"f","x":-0.3,"y":-0.84},{"p":"126 – 2179.83 MeV","s":"f","x":-0.19,"y":-0.69},{"p":"126 – 2179.83 MeV","s":"f","x":-0.08,"y":-0.52},{"p":"126 – 2179.83 MeV","s":"f","x":0,"y":-0.43},{"p":"126 – 2179.83 MeV","s":"f","x":0.12,"y":-0.36},{"p":"126 – 2179.83 MeV","s":"f","x":0.25,"y":-0.3},{"p":"126 – 2179.83 MeV","s":"f","x":0.4,"y":-0.25},{"p":"126 – 2179.83 MeV","s":"f","x":0.56,"y":-0.21},{"p":"126 – 2179.83 MeV","s":"f","x":0.69,"y":-0.19},{"p":"126 – 2179.83 MeV","s":"f","x":0.8,"y":-0.25},{"p":"126 – 2179.83 MeV","s":"f","x":0.87,"y":-0.32},{"p":"126 – 2179.83 MeV","s":"f","x":0.92,"y":-0.36},{"p":"126 – 2179.83 MeV","s":"f","x":0.96,"y":-0.29},{"p":"126 – 2179.83 MeV","s":"f","x":1,"y":0},

{"p":"115 – 2135 MeV","s":"m","x":-1,"y":0},{"p":"115 – 2135 MeV","s":"m","x":-0.95,"y":-0.36},{"p":"115 – 2135 MeV","s":"m","x":-0.9,"y":-0.64},{"p":"115 – 2135 MeV","s":"m","x":-0.84,"y":-0.83},{"p":"115 – 2135 MeV","s":"m","x":-0.77,"y":-0.89},{"p":"115 – 2135 MeV","s":"m","x":-0.7,"y":-0.83},{"p":"115 – 2135 MeV","s":"m","x":-0.6,"y":-0.6},{"p":"115 – 2135 MeV","s":"m","x":-0.5,"y":-0.23},{"p":"115 – 2135 MeV","s":"m","x":-0.4,"y":0.11},{"p":"115 – 2135 MeV","s":"m","x":-0.3,"y":0.28},{"p":"115 – 2135 MeV","s":"m","x":-0.2,"y":0.18},{"p":"115 – 2135 MeV","s":"m","x":-0.1,"y":-0.06},{"p":"115 – 2135 MeV","s":"m","x":0,"y":-0.26},{"p":"115 – 2135 MeV","s":"m","x":0.1,"y":-0.34},{"p":"115 – 2135 MeV","s":"m","x":0.2,"y":-0.37},{"p":"115 – 2135 MeV","s":"m","x":0.3,"y":-0.36},{"p":"115 – 2135 MeV","s":"m","x":0.4,"y":-0.34},{"p":"115 – 2135 MeV","s":"m","x":0.5,"y":-0.33},{"p":"115 – 2135 MeV","s":"m","x":0.6,"y":-0.34},{"p":"115 – 2135 MeV","s":"m","x":0.7,"y":-0.38},{"p":"115 – 2135 MeV","s":"m","x":0.8,"y":-0.45},{"p":"115 – 2135 MeV","s":"m","x":0.9,"y":-0.52},{"p":"115 – 2135 MeV","s":"m","x":0.94,"y":-0.56},{"p":"115 – 2135 MeV","s":"m","x":1,"y":0},
{"p":"116 – 2139.82 MeV","s":"m","x":-1,"y":0},{"p":"116 – 2139.82 MeV","s":"m","x":-0.95,"y":-0.36},{"p":"116 – 2139.82 MeV","s":"m","x":-0.9,"y":-0.64},{"p":"116 – 2139.82 MeV","s":"m","x":-0.84,"y":-0.83},{"p":"116 – 2139.82 MeV","s":"m","x":-0.77,"y":-0.89},{"p":"116 – 2139.82 MeV","s":"m","x":-0.7,"y":-0.83},{"p":"116 – 2139.82 MeV","s":"m","x":-0.6,"y":-0.6},{"p":"116 – 2139.82 MeV","s":"m","x":-0.5,"y":-0.23},{"p":"116 – 2139.82 MeV","s":"m","x":-0.4,"y":0.11},{"p":"116 – 2139.82 MeV","s":"m","x":-0.3,"y":0.28},{"p":"116 – 2139.82 MeV","s":"m","x":-0.2,"y":0.18},{"p":"116 – 2139.82 MeV","s":"m","x":-0.1,"y":-0.06},{"p":"116 – 2139.82 MeV","s":"m","x":0,"y":-0.26},{"p":"116 – 2139.82 MeV","s":"m","x":0.1,"y":-0.34},{"p":"116 – 2139.82 MeV","s":"m","x":0.2,"y":-0.37},{"p":"116 – 2139.82 MeV","s":"m","x":0.3,"y":-0.36},{"p":"116 – 2139.82 MeV","s":"m","x":0.4,"y":-0.34},{"p":"116 – 2139.82 MeV","s":"m","x":0.5,"y":-0.33},{"p":"116 – 2139.82 MeV","s":"m","x":0.6,"y":-0.34},{"p":"116 – 2139.82 MeV","s":"m","x":0.7,"y":-0.38},{"p":"116 – 2139.82 MeV","s":"m","x":0.8,"y":-0.45},{"p":"116 – 2139.82 MeV","s":"m","x":0.9,"y":-0.52},{"p":"116 – 2139.82 MeV","s":"m","x":0.94,"y":-0.57},{"p":"116 – 2139.82 MeV","s":"m","x":1,"y":0},
{"p":"117 – 2139.82 MeV","s":"m","x":-1,"y":0},{"p":"117 – 2139.82 MeV","s":"m","x":-0.95,"y":-0.35},{"p":"117 – 2139.82 MeV","s":"m","x":-0.9,"y":-0.63},{"p":"117 – 2139.82 MeV","s":"m","x":-0.84,"y":-0.82},{"p":"117 – 2139.82 MeV","s":"m","x":-0.77,"y":-0.88},{"p":"117 – 2139.82 MeV","s":"m","x":-0.7,"y":-0.83},{"p":"117 – 2139.82 MeV","s":"m","x":-0.6,"y":-0.6},{"p":"117 – 2139.82 MeV","s":"m","x":-0.5,"y":-0.23},{"p":"117 – 2139.82 MeV","s":"m","x":-0.4,"y":0.11},{"p":"117 – 2139.82 MeV","s":"m","x":-0.3,"y":0.27},{"p":"117 – 2139.82 MeV","s":"m","x":-0.2,"y":0.17},{"p":"117 – 2139.82 MeV","s":"m","x":-0.1,"y":-0.06},{"p":"117 – 2139.82 MeV","s":"m","x":0,"y":-0.26},{"p":"117 – 2139.82 MeV","s":"m","x":0.1,"y":-0.34},{"p":"117 – 2139.82 MeV","s":"m","x":0.2,"y":-0.36},{"p":"117 – 2139.82 MeV","s":"m","x":0.3,"y":-0.36},{"p":"117 – 2139.82 MeV","s":"m","x":0.4,"y":-0.35},{"p":"117 – 2139.82 MeV","s":"m","x":0.5,"y":-0.33},{"p":"117 – 2139.82 MeV","s":"m","x":0.6,"y":-0.32},{"p":"117 – 2139.82 MeV","s":"m","x":0.7,"y":-0.37},{"p":"117 – 2139.82 MeV","s":"m","x":0.8,"y":-0.42},{"p":"117 – 2139.82 MeV","s":"m","x":0.9,"y":-0.5},{"p":"117 – 2139.82 MeV","s":"m","x":0.94,"y":-0.54},{"p":"117 – 2139.82 MeV","s":"m","x":1,"y":0},
{"p":"118 – 2145 MeV","s":"m","x":-1,"y":0},{"p":"118 – 2145 MeV","s":"m","x":-0.95,"y":-0.35},{"p":"118 – 2145 MeV","s":"m","x":-0.9,"y":-0.63},{"p":"118 – 2145 MeV","s":"m","x":-0.84,"y":-0.83},{"p":"118 – 2145 MeV","s":"m","x":-0.77,"y":-0.89},{"p":"118 – 2145 MeV","s":"m","x":-0.7,"y":-0.83},{"p":"118 – 2145 MeV","s":"m","x":-0.6,"y":-0.6},{"p":"118 – 2145 MeV","s":"m","x":-0.5,"y":-0.23},{"p":"118 – 2145 MeV","s":"m","x":-0.4,"y":0.11},{"p":"118 – 2145 MeV","s":"m","x":-0.3,"y":0.28},{"p":"118 – 2145 MeV","s":"m","x":-0.2,"y":0.18},{"p":"118 – 2145 MeV","s":"m","x":-0.1,"y":-0.06},{"p":"118 – 2145 MeV","s":"m","x":0,"y":-0.26},{"p":"118 – 2145 MeV","s":"m","x":0.1,"y":-0.34},{"p":"118 – 2145 MeV","s":"m","x":0.2,"y":-0.36},{"p":"118 – 2145 MeV","s":"m","x":0.3,"y":-0.35},{"p":"118 – 2145 MeV","s":"m","x":0.4,"y":-0.33},{"p":"118 – 2145 MeV","s":"m","x":0.5,"y":-0.31},{"p":"118 – 2145 MeV","s":"m","x":0.6,"y":-0.31},{"p":"118 – 2145 MeV","s":"m","x":0.7,"y":-0.34},{"p":"118 – 2145 MeV","s":"m","x":0.8,"y":-0.41},{"p":"118 – 2145 MeV","s":"m","x":0.9,"y":-0.5},{"p":"118 – 2145 MeV","s":"m","x":0.94,"y":-0.56},{"p":"118 – 2145 MeV","s":"m","x":1,"y":0},
{"p":"119 – 2155 MeV","s":"m","x":-1,"y":0},{"p":"119 – 2155 MeV","s":"m","x":-0.95,"y":-0.35},{"p":"119 – 2155 MeV","s":"m","x":-0.9,"y":-0.63},{"p":"119 – 2155 MeV","s":"m","x":-0.84,"y":-0.82},{"p":"119 – 2155 MeV","s":"m","x":-0.77,"y":-0.88},{"p":"119 – 2155 MeV","s":"m","x":-0.7,"y":-0.83},{"p":"119 – 2155 MeV","s":"m","x":-0.6,"y":-0.6},{"p":"119 – 2155 MeV","s":"m","x":-0.5,"y":-0.23},{"p":"119 – 2155 MeV","s":"m","x":-0.4,"y":0.11},{"p":"119 – 2155 MeV","s":"m","x":-0.3,"y":0.28},{"p":"119 – 2155 MeV","s":"m","x":-0.2,"y":0.18},{"p":"119 – 2155 MeV","s":"m","x":-0.1,"y":-0.06},{"p":"119 – 2155 MeV","s":"m","x":0,"y":-0.27},{"p":"119 – 2155 MeV","s":"m","x":0.1,"y":-0.34},{"p":"119 – 2155 MeV","s":"m","x":0.2,"y":-0.36},{"p":"119 – 2155 MeV","s":"m","x":0.3,"y":-0.35},{"p":"119 – 2155 MeV","s":"m","x":0.4,"y":-0.33},{"p":"119 – 2155 MeV","s":"m","x":0.5,"y":-0.31},{"p":"119 – 2155 MeV","s":"m","x":0.6,"y":-0.32},{"p":"119 – 2155 MeV","s":"m","x":0.7,"y":-0.35},{"p":"119 – 2155 MeV","s":"m","x":0.8,"y":-0.42},{"p":"119 – 2155 MeV","s":"m","x":0.9,"y":-0.5},{"p":"119 – 2155 MeV","s":"m","x":0.94,"y":-0.56},{"p":"119 – 2155 MeV","s":"m","x":1,"y":0},
{"p":"120 – 2160.55 MeV","s":"m","x":-1,"y":0},{"p":"120 – 2160.55 MeV","s":"m","x":-0.95,"y":-0.36},{"p":"120 – 2160.55 MeV","s":"m","x":-0.9,"y":-0.64},{"p":"120 – 2160.55 MeV","s":"m","x":-0.84,"y":-0.84},{"p":"120 – 2160.55 MeV","s":"m","x":-0.77,"y":-0.9},{"p":"120 – 2160.55 MeV","s":"m","x":-0.7,"y":-0.84},{"p":"120 – 2160.55 MeV","s":"m","x":-0.6,"y":-0.6},{"p":"120 – 2160.55 MeV","s":"m","x":-0.5,"y":-0.23},{"p":"120 – 2160.55 MeV","s":"m","x":-0.4,"y":0.11},{"p":"120 – 2160.55 MeV","s":"m","x":-0.3,"y":0.28},{"p":"120 – 2160.55 MeV","s":"m","x":-0.2,"y":0.18},{"p":"120 – 2160.55 MeV","s":"m","x":-0.1,"y":-0.06},{"p":"120 – 2160.55 MeV","s":"m","x":0,"y":-0.26},{"p":"120 – 2160.55 MeV","s":"m","x":0.1,"y":-0.34},{"p":"120 – 2160.55 MeV","s":"m","x":0.2,"y":-0.36},{"p":"120 – 2160.55 MeV","s":"m","x":0.3,"y":-0.33},{"p":"120 – 2160.55 MeV","s":"m","x":0.4,"y":-0.3},{"p":"120 – 2160.55 MeV","s":"m","x":0.5,"y":-0.27},{"p":"120 – 2160.55 MeV","s":"m","x":0.6,"y":-0.26},{"p":"120 – 2160.55 MeV","s":"m","x":0.7,"y":-0.3},{"p":"120 – 2160.55 MeV","s":"m","x":0.8,"y":-0.37},{"p":"120 – 2160.55 MeV","s":"m","x":0.9,"y":-0.47},{"p":"120 – 2160.55 MeV","s":"m","x":0.94,"y":-0.53},{"p":"120 – 2160.55 MeV","s":"m","x":1,"y":0},
{"p":"121 – 2160.55 MeV","s":"m","x":-1,"y":0},{"p":"121 – 2160.55 MeV","s":"m","x":-0.95,"y":-0.36},{"p":"121 – 2160.55 MeV","s":"m","x":-0.9,"y":-0.64},{"p":"121 – 2160.55 MeV","s":"m","x":-0.84,"y":-0.84},{"p":"121 – 2160.55 MeV","s":"m","x":-0.77,"y":-0.9},{"p":"121 – 2160.55 MeV","s":"m","x":-0.7,"y":-0.84},{"p":"121 – 2160.55 MeV","s":"m","x":-0.6,"y":-0.6},{"p":"121 – 2160.55 MeV","s":"m","x":-0.5,"y":-0.23},{"p":"121 – 2160.55 MeV","s":"m","x":-0.4,"y":0.11},{"p":"121 – 2160.55 MeV","s":"m","x":-0.3,"y":0.28},{"p":"121 – 2160.55 MeV","s":"m","x":-0.2,"y":0.18},{"p":"121 – 2160.55 MeV","s":"m","x":-0.1,"y":-0.06},{"p":"121 – 2160.55 MeV","s":"m","x":0,"y":-0.26},{"p":"121 – 2160.55 MeV","s":"m","x":0.1,"y":-0.34},{"p":"121 – 2160.55 MeV","s":"m","x":0.2,"y":-0.36},{"p":"121 – 2160.55 MeV","s":"m","x":0.3,"y":-0.33},{"p":"121 – 2160.55 MeV","s":"m","x":0.4,"y":-0.3},{"p":"121 – 2160.55 MeV","s":"m","x":0.5,"y":-0.27},{"p":"121 – 2160.55 MeV","s":"m","x":0.6,"y":-0.26},{"p":"121 – 2160.55 MeV","s":"m","x":0.7,"y":-0.3},{"p":"121 – 2160.55 MeV","s":"m","x":0.8,"y":-0.37},{"p":"121 – 2160.55 MeV","s":"m","x":0.9,"y":-0.47},{"p":"121 – 2160.55 MeV","s":"m","x":0.94,"y":-0.53},{"p":"121 – 2160.55 MeV","s":"m","x":1,"y":0},
{"p":"122 – 2165 MeV","s":"m","x":-1,"y":0},{"p":"122 – 2165 MeV","s":"m","x":-0.95,"y":-0.35},{"p":"122 – 2165 MeV","s":"m","x":-0.9,"y":-0.66},{"p":"122 – 2165 MeV","s":"m","x":-0.84,"y":-0.85},{"p":"122 – 2165 MeV","s":"m","x":-0.76,"y":-0.9},{"p":"122 – 2165 MeV","s":"m","x":-0.69,"y":-0.84},{"p":"122 – 2165 MeV","s":"m","x":-0.6,"y":-0.64},{"p":"122 – 2165 MeV","s":"m","x":-0.49,"y":-0.2},{"p":"122 – 2165 MeV","s":"m","x":-0.38,"y":0.18},{"p":"122 – 2165 MeV","s":"m","x":-0.28,"y":0.29},{"p":"122 – 2165 MeV","s":"m","x":-0.19,"y":0.16},{"p":"122 – 2165 MeV","s":"m","x":-0.08,"y":-0.09},{"p":"122 – 2165 MeV","s":"m","x":0.01,"y":-0.27},{"p":"122 – 2165 MeV","s":"m","x":0.1,"y":-0.35},{"p":"122 – 2165 MeV","s":"m","x":0.2,"y":-0.37},{"p":"122 – 2165 MeV","s":"m","x":0.3,"y":-0.34},{"p":"122 – 2165 MeV","s":"m","x":0.4,"y":-0.3},{"p":"122 – 2165 MeV","s":"m","x":0.5,"y":-0.27},{"p":"122 – 2165 MeV","s":"m","x":0.6,"y":-0.26},{"p":"122 – 2165 MeV","s":"m","x":0.7,"y":-0.27},{"p":"122 – 2165 MeV","s":"m","x":0.8,"y":-0.34},{"p":"122 – 2165 MeV","s":"m","x":0.9,"y":-0.44},{"p":"122 – 2165 MeV","s":"m","x":0.94,"y":-0.54},{"p":"122 – 2165 MeV","s":"m","x":1,"y":0},
{"p":"123 – 2169.5 MeV","s":"m","x":-1,"y":0},{"p":"123 – 2169.5 MeV","s":"m","x":-0.95,"y":-0.36},{"p":"123 – 2169.5 MeV","s":"m","x":-0.9,"y":-0.65},{"p":"123 – 2169.5 MeV","s":"m","x":-0.84,"y":-0.85},{"p":"123 – 2169.5 MeV","s":"m","x":-0.77,"y":-0.91},{"p":"123 – 2169.5 MeV","s":"m","x":-0.7,"y":-0.85},{"p":"123 – 2169.5 MeV","s":"m","x":-0.6,"y":-0.6},{"p":"123 – 2169.5 MeV","s":"m","x":-0.5,"y":-0.22},{"p":"123 – 2169.5 MeV","s":"m","x":-0.4,"y":0.13},{"p":"123 – 2169.5 MeV","s":"m","x":-0.29,"y":0.31},{"p":"123 – 2169.5 MeV","s":"m","x":-0.2,"y":0.2},{"p":"123 – 2169.5 MeV","s":"m","x":-0.1,"y":-0.05},{"p":"123 – 2169.5 MeV","s":"m","x":0,"y":-0.28},{"p":"123 – 2169.5 MeV","s":"m","x":0.1,"y":-0.35},{"p":"123 – 2169.5 MeV","s":"m","x":0.2,"y":-0.35},{"p":"123 – 2169.5 MeV","s":"m","x":0.3,"y":-0.32},{"p":"123 – 2169.5 MeV","s":"m","x":0.4,"y":-0.29},{"p":"123 – 2169.5 MeV","s":"m","x":0.5,"y":-0.26},{"p":"123 – 2169.5 MeV","s":"m","x":0.6,"y":-0.25},{"p":"123 – 2169.5 MeV","s":"m","x":0.7,"y":-0.26},{"p":"123 – 2169.5 MeV","s":"m","x":0.8,"y":-0.32},{"p":"123 – 2169.5 MeV","s":"m","x":0.9,"y":-0.44},{"p":"123 – 2169.5 MeV","s":"m","x":0.94,"y":-0.55},{"p":"123 – 2169.5 MeV","s":"m","x":1,"y":0},
{"p":"124 – 2175 MeV","s":"m","x":-1,"y":0},{"p":"124 – 2175 MeV","s":"m","x":-0.95,"y":-0.36},{"p":"124 – 2175 MeV","s":"m","x":-0.9,"y":-0.65},{"p":"124 – 2175 MeV","s":"m","x":-0.84,"y":-0.85},{"p":"124 – 2175 MeV","s":"m","x":-0.76,"y":-0.91},{"p":"124 – 2175 MeV","s":"m","x":-0.69,"y":-0.84},{"p":"124 – 2175 MeV","s":"m","x":-0.6,"y":-0.6},{"p":"124 – 2175 MeV","s":"m","x":-0.5,"y":-0.22},{"p":"124 – 2175 MeV","s":"m","x":-0.4,"y":0.12},{"p":"124 – 2175 MeV","s":"m","x":-0.28,"y":0.28},{"p":"124 – 2175 MeV","s":"m","x":-0.19,"y":0.17},{"p":"124 – 2175 MeV","s":"m","x":-0.09,"y":-0.07},{"p":"124 – 2175 MeV","s":"m","x":0,"y":-0.27},{"p":"124 – 2175 MeV","s":"m","x":0.1,"y":-0.34},{"p":"124 – 2175 MeV","s":"m","x":0.2,"y":-0.36},{"p":"124 – 2175 MeV","s":"m","x":0.3,"y":-0.34},{"p":"124 – 2175 MeV","s":"m","x":0.4,"y":-0.32},{"p":"124 – 2175 MeV","s":"m","x":0.5,"y":-0.3},{"p":"124 – 2175 MeV","s":"m","x":0.6,"y":-0.28},{"p":"124 – 2175 MeV","s":"m","x":0.7,"y":-0.29},{"p":"124 – 2175 MeV","s":"m","x":0.8,"y":-0.36},{"p":"124 – 2175 MeV","s":"m","x":0.9,"y":-0.46},{"p":"124 – 2175 MeV","s":"m","x":0.94,"y":-0.56},{"p":"124 – 2175 MeV","s":"m","x":1,"y":0},
{"p":"125 – 2179.83 MeV","s":"m","x":-1,"y":0},{"p":"125 – 2179.83 MeV","s":"m","x":-0.95,"y":-0.35},{"p":"125 – 2179.83 MeV","s":"m","x":-0.9,"y":-0.63},{"p":"125 – 2179.83 MeV","s":"m","x":-0.84,"y":-0.83},{"p":"125 – 2179.83 MeV","s":"m","x":-0.76,"y":-0.89},{"p":"125 – 2179.83 MeV","s":"m","x":-0.69,"y":-0.83},{"p":"125 – 2179.83 MeV","s":"m","x":-0.6,"y":-0.6},{"p":"125 – 2179.83 MeV","s":"m","x":-0.5,"y":-0.22},{"p":"125 – 2179.83 MeV","s":"m","x":-0.4,"y":0.13},{"p":"125 – 2179.83 MeV","s":"m","x":-0.3,"y":0.3},{"p":"125 – 2179.83 MeV","s":"m","x":-0.2,"y":0.2},{"p":"125 – 2179.83 MeV","s":"m","x":-0.1,"y":-0.05},{"p":"125 – 2179.83 MeV","s":"m","x":0,"y":-0.27},{"p":"125 – 2179.83 MeV","s":"m","x":0.1,"y":-0.32},{"p":"125 – 2179.83 MeV","s":"m","x":0.2,"y":-0.32},{"p":"125 – 2179.83 MeV","s":"m","x":0.3,"y":-0.3},{"p":"125 – 2179.83 MeV","s":"m","x":0.4,"y":-0.26},{"p":"125 – 2179.83 MeV","s":"m","x":0.5,"y":-0.21},{"p":"125 – 2179.83 MeV","s":"m","x":0.6,"y":-0.19},{"p":"125 – 2179.83 MeV","s":"m","x":0.7,"y":-0.25},{"p":"125 – 2179.83 MeV","s":"m","x":0.8,"y":-0.35},{"p":"125 – 2179.83 MeV","s":"m","x":0.9,"y":-0.45},{"p":"125 – 2179.83 MeV","s":"m","x":0.94,"y":-0.5},{"p":"125 – 2179.83 MeV","s":"m","x":1,"y":0},
{"p":"126 – 2179.83 MeV","s":"m","x":-1,"y":0},{"p":"126 – 2179.83 MeV","s":"m","x":-0.95,"y":-0.25},{"p":"126 – 2179.83 MeV","s":"m","x":-0.89,"y":-0.65},{"p":"126 – 2179.83 MeV","s":"m","x":-0.82,"y":-0.84},{"p":"126 – 2179.83 MeV","s":"m","x":-0.76,"y":-0.89},{"p":"126 – 2179.83 MeV","s":"m","x":-0.67,"y":-0.8},{"p":"126 – 2179.83 MeV","s":"m","x":-0.58,"y":-0.58},{"p":"126 – 2179.83 MeV","s":"m","x":-0.47,"y":-0.14},{"p":"126 – 2179.83 MeV","s":"m","x":-0.38,"y":0.15},{"p":"126 – 2179.83 MeV","s":"m","x":-0.31,"y":0.29},{"p":"126 – 2179.83 MeV","s":"m","x":-0.21,"y":0.19},{"p":"126 – 2179.83 MeV","s":"m","x":-0.1,"y":-0.1},{"p":"126 – 2179.83 MeV","s":"m","x":0,"y":-0.29},{"p":"126 – 2179.83 MeV","s":"m","x":0.1,"y":-0.33},{"p":"126 – 2179.83 MeV","s":"m","x":0.2,"y":-0.32},{"p":"126 – 2179.83 MeV","s":"m","x":0.3,"y":-0.29},{"p":"126 – 2179.83 MeV","s":"m","x":0.4,"y":-0.25},{"p":"126 – 2179.83 MeV","s":"m","x":0.5,"y":-0.22},{"p":"126 – 2179.83 MeV","s":"m","x":0.6,"y":-0.21},{"p":"126 – 2179.83 MeV","s":"m","x":0.7,"y":-0.22},{"p":"126 – 2179.83 MeV","s":"m","x":0.8,"y":-0.3},{"p":"126 – 2179.83 MeV","s":"m","x":0.9,"y":-0.42},{"p":"126 – 2179.83 MeV","s":"m","x":0.94,"y":-0.49},{"p":"126 – 2179.83 MeV","s":"m","x":1,"y":0}
]},
"facet": {"field": "p", "type": "nominal", "title": null, "sort": "ascending",
  "header": {"labelFontSize": 31, "labelFont": "Liberation Sans", "labelColor": "#111111", "labelPadding": 1, "labelOrient": "top"}},
"columns": 4,
"spacing": {"column": 183, "row": 187},
"bounds": "flush",
"resolve": {"axis": {"x": "independent", "y": "independent"}},
"spec": {
  "width": 315, "height": 193,
  "resolve": {"axis": {"x": "independent", "y": "independent"}},
  "layer": [
    {"transform": [{"filter": "datum.s === 'd'"}],
     "mark": {"type": "rule", "color": "#6688b3", "strokeWidth": 2, "clip": true},
     "encoding": {
       "x": {"field": "x", "type": "quantitative", "scale": {"domain": [-1.033, 1.033], "nice": false, "zero": false}, "axis": null},
       "y": {"field": "lo", "type": "quantitative", "scale": {"domain": [-1.085, 1.04], "nice": false, "zero": false}, "axis": null},
       "y2": {"field": "hi"}}},
    {"transform": [{"filter": "datum.s === 'd'"}],
     "mark": {"type": "tick", "orient": "horizontal", "size": 7, "thickness": 2, "color": "#6688b3", "clip": true},
     "encoding": {
       "x": {"field": "x", "type": "quantitative", "axis": null},
       "y": {"field": "lo", "type": "quantitative", "axis": null}}},
    {"transform": [{"filter": "datum.s === 'd'"}],
     "mark": {"type": "tick", "orient": "horizontal", "size": 7, "thickness": 2, "color": "#6688b3", "clip": true},
     "encoding": {
       "x": {"field": "x", "type": "quantitative", "axis": null},
       "y": {"field": "hi", "type": "quantitative", "axis": null}}},
    {"transform": [{"filter": "datum.s === 'd'"}],
     "mark": {"type": "circle", "size": 14, "opacity": 1, "color": "#6688b3", "clip": true},
     "encoding": {
       "x": {"field": "x", "type": "quantitative", "axis": null},
       "y": {"field": "y", "type": "quantitative", "axis": null}}},
    {"transform": [{"filter": "datum.s === 'f'"}],
     "mark": {"type": "line", "color": "#ff2a2a", "strokeWidth": 2.8, "interpolate": "monotone", "clip": true},
     "encoding": {
       "x": {"field": "x", "type": "quantitative", "title": "Cos θ",
         "axis": {"orient": "bottom", "values": [-1,-0.9,-0.8,-0.7,-0.6,-0.5,-0.4,-0.3,-0.2,-0.1,0,0.1,0.2,0.3,0.4,0.5,0.6,0.7,0.8,0.9,1], "format": ".1f",
           "labelExpr": "abs(datum.value*2 - round(datum.value*2)) < 0.001 ? datum.label : ''",
           "tickSize": {"condition": {"test": "abs(datum.value*2 - round(datum.value*2)) < 0.001", "value": -7}, "value": -4},
           "tickColor": "#999999", "tickWidth": 1, "domain": false, "grid": false, "labelOverlap": false, "labelFlush": false,
           "labelFontSize": 28, "labelPadding": 19, "titleFontSize": 29, "titleFontWeight": "normal", "titlePadding": 14}},
       "y": {"field": "y", "type": "quantitative", "title": "Ox'",
         "axis": {"orient": "left", "values": [-1,-0.9,-0.8,-0.7,-0.6,-0.5,-0.4,-0.3,-0.2,-0.1,0,0.1,0.2,0.3,0.4,0.5,0.6,0.7,0.8,0.9,1], "format": ".1f",
           "labelExpr": "abs(datum.value*2 - round(datum.value*2)) < 0.001 ? datum.label : ''",
           "tickSize": {"condition": {"test": "abs(datum.value*2 - round(datum.value*2)) < 0.001", "value": -7}, "value": -4},
           "tickColor": "#999999", "tickWidth": 1, "domain": false, "grid": false, "labelOverlap": false, "labelFlush": false,
           "labelFontSize": 28, "labelPadding": 16, "titleFontSize": 29, "titleFontWeight": "normal", "titlePadding": 14}}}},
    {"transform": [{"filter": "datum.s === 'm'"}],
     "mark": {"type": "line", "color": "#2323e6", "strokeWidth": 2.6, "strokeDash": [7, 5], "interpolate": "monotone", "clip": true},
     "encoding": {
       "x": {"field": "x", "type": "quantitative",
         "axis": {"orient": "top", "values": [-1,-0.9,-0.8,-0.7,-0.6,-0.5,-0.4,-0.3,-0.2,-0.1,0,0.1,0.2,0.3,0.4,0.5,0.6,0.7,0.8,0.9,1],
           "labels": false, "title": null,
           "tickSize": {"condition": {"test": "abs(datum.value*2 - round(datum.value*2)) < 0.001", "value": -7}, "value": -4},
           "tickColor": "#999999", "tickWidth": 1, "domain": false, "grid": false}},
       "y": {"field": "y", "type": "quantitative",
         "axis": {"orient": "right", "values": [-1,-0.9,-0.8,-0.7,-0.6,-0.5,-0.4,-0.3,-0.2,-0.1,0,0.1,0.2,0.3,0.4,0.5,0.6,0.7,0.8,0.9,1],
           "labels": false, "title": null,
           "tickSize": {"condition": {"test": "abs(datum.value*2 - round(datum.value*2)) < 0.001", "value": -7}, "value": -4},
           "tickColor": "#999999", "tickWidth": 1, "domain": false, "grid": false}}}}
  ]
},
"config": {
  "font": "Liberation Sans",
  "view": {"stroke": "#8c8c8c", "strokeWidth": 1.4},
  "axis": {"labelFont": "Liberation Sans", "titleFont": "Liberation Sans", "labelColor": "#111111", "titleColor": "#111111"},
  "header": {"labelFont": "Liberation Sans"}
}
}
